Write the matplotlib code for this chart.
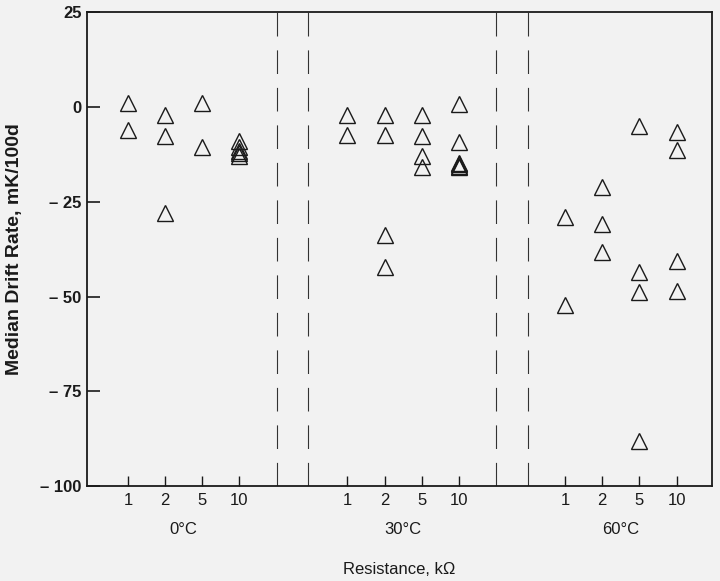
#!/usr/bin/env python3
"""
Median drift rate of thermistors vs. resistance at three temperatures.
Scatter of open triangles, groups separated by dashed double lines.
"""

import matplotlib
matplotlib.use("Agg")
import matplotlib.pyplot as plt

# Group labels and resistance tick labels
temperatures = ["0\u00b0C", "30\u00b0C", "60\u00b0C"]
resistances = ["1", "2", "5", "10"]

# Horizontal position of each resistance slot (arbitrary axis units)
group_x = [
    [0.0, 1.0, 2.0, 3.0],
    [5.9, 6.9, 7.9, 8.9],
    [11.75, 12.75, 13.75, 14.75],
]
separators = [4.0, 4.85, 9.9, 10.75]

# Median drift rate, mK/100d, one list per (temperature, resistance)
drift_0C = [
    [1.0, -6.0],
    [-2.0, -7.5, -28.0],
    [1.0, -10.5],
    [-9.0, -10.5, -11.5, -12.2, -13.0],
]
drift_30C = [
    [-2.0, -7.4],
    [-2.0, -7.4, -33.7, -42.3],
    [-2.0, -7.5, -12.9, -15.7],
    [0.8, -9.3, -14.6, -15.0, -15.4, -15.8],
]
drift_60C = [
    [-29.0, -52.3],
    [-21.0, -30.8, -38.1],
    [-5.0, -43.6, -48.7, -88.1],
    [-6.6, -11.4, -40.6, -48.6],
]
all_drift = [drift_0C, drift_30C, drift_60C]

y_ticks = [25, 0, -25, -50, -75, -100]
y_tick_labels = ["25", "0", "\u2013 25", "\u2013 50", "\u2013 75", "\u2013 100"]


def main() -> None:
    plt.rcParams["font.family"] = ["Liberation Sans", "DejaVu Sans"]
    plt.rcParams["lines.scale_dashes"] = False
    bg = "#f2f2f2"

    fig = plt.figure(figsize=(7.2, 5.81), dpi=100)
    fig.patch.set_facecolor(bg)
    ax = fig.add_axes([0.1208, 0.1635, 0.868, 0.815])
    ax.set_facecolor(bg)

    # Triangles
    for xs, groups in zip(group_x, all_drift):
        for x, vals in zip(xs, groups):
            ax.plot([x] * len(vals), vals, linestyle="none", marker="^",
                    markersize=11, markerfacecolor="none",
                    markeredgecolor="#1a1a1a", markeredgewidth=1.0)

    # Dashed separators between temperature groups
    for sx in separators:
        ax.axvline(sx, color="#333333", linewidth=0.8,
                   linestyle=(0, (17, 10)))

    ax.set_xlim(-1.10, 15.70)
    ax.set_ylim(-100, 25)

    xticks = [x for xs in group_x for x in xs]
    ax.set_xticks(xticks)
    ax.set_xticklabels(resistances * 3, fontsize=12)
    ax.set_yticks(y_ticks)
    ax.set_yticklabels(y_tick_labels, fontsize=12, fontweight="bold")

    ax.tick_params(axis="x", direction="in", length=7, width=1.0,
                   pad=5, colors="#1a1a1a")
    ax.tick_params(axis="y", direction="in", length=9.5, width=1.2,
                   pad=4, colors="#1a1a1a")
    for sp in ax.spines.values():
        sp.set_linewidth(1.3)
        sp.set_color("#1a1a1a")

    # Temperature group labels under the resistance ticks
    for xs, label in zip(group_x, temperatures):
        cx = sum(xs) / len(xs)
        ax.annotate(label, xy=(cx, 0), xycoords=("data", "axes fraction"),
                    xytext=(0, -31), textcoords="offset points",
                    ha="center", va="center", fontsize=12, color="#1a1a1a")

    ax.set_xlabel("Resistance, k\u03a9", fontsize=12, labelpad=39,
                  color="#1a1a1a")
    ax.set_ylabel("Median Drift Rate, mK/100d", fontsize=14,
                  fontweight="bold", labelpad=12, color="#1a1a1a")

    fig.savefig("out.png", dpi=100, facecolor=bg)
    plt.close(fig)


if __name__ == "__main__":
    main()
